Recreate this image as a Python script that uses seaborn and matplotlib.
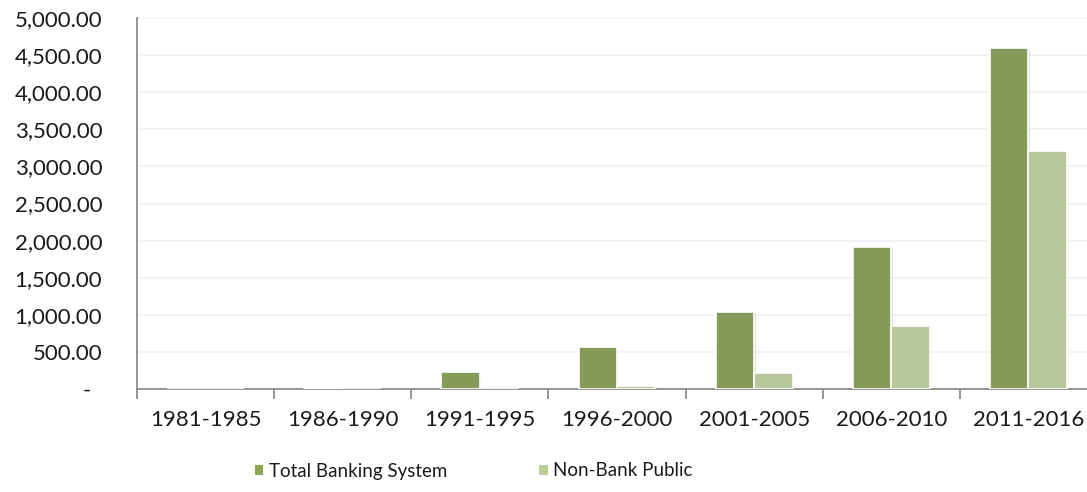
import numpy as np
import pandas as pd
import matplotlib
matplotlib.use("Agg")
import matplotlib.pyplot as plt
import matplotlib.patheffects as pe
from matplotlib.patches import Patch
from matplotlib.ticker import FuncFormatter, FixedLocator
import seaborn as sns

# --- data ---
periods = ['1981-1985', '1986-1990', '1991-1995', '1996-2000',
           '2001-2005', '2006-2010', '2011-2016']
total_banking = [2, 10, 233, 566, 1034, 1914, 4592]
non_bank_public = [1, 5, 22, 40, 216, 853, 3212]
series_names = ['Total Banking System', 'Non-Bank Public']
series_colors = ['#8AA64F', '#BACE95']
y_ticks = list(range(0, 5001, 500))

df = pd.DataFrame({
    'Period': periods * 2,
    'Value': total_banking + non_bank_public,
    'Series': [series_names[0]] * len(periods) + [series_names[1]] * len(periods),
})

# --- style ---
sns.set_style('white')
plt.rcParams['font.family'] = ['Lato', 'DejaVu Sans']

fig = plt.figure(figsize=(10.87, 4.92), dpi=100)
# axes run a little past the right edge, like the cropped original
ax = fig.add_axes([137 / 1087, 103 / 492, 960 / 1087, 371 / 492])

sns.barplot(data=df, x='Period', y='Value', hue='Series', order=periods,
            hue_order=series_names, palette=series_colors, width=0.56,
            edgecolor='white', linewidth=1.2, legend=False, ax=ax, zorder=3)

# soft drop shadow like the spreadsheet bars
for bar in ax.patches:
    bar.set_path_effects([pe.SimplePatchShadow(offset=(1.0, -1.0), shadow_rgbFace='#999999', alpha=0.3),
                          pe.Normal()])

ax.set_xlim(-0.5, len(periods) - 0.5)
ax.set_ylim(0, 5000)
ax.set_yticks(y_ticks)
ax.yaxis.set_major_formatter(FuncFormatter(lambda v, p: '-  ' if v == 0 else f'{v:,.2f}'))
ax.yaxis.grid(True, color='#EEF2F7', linewidth=1.2, zorder=0)
ax.set_axisbelow(True)

# x ticks sit between the categories
ax.xaxis.set_minor_locator(FixedLocator(np.arange(-0.5, len(periods), 1.0)))
ax.tick_params(axis='x', which='major', length=0, pad=15, labelsize=16, labelcolor='#1a1a1a')
ax.tick_params(axis='x', which='minor', bottom=True, length=7, width=1.3,
               color='#8C8C8C', direction='out')
ax.tick_params(axis='y', length=8, width=1.3, color='#8C8C8C', direction='out', pad=17,
               labelsize=16, labelcolor='#1a1a1a')

for side in ['top', 'right']:
    ax.spines[side].set_visible(False)
for side in ['left', 'bottom']:
    ax.spines[side].set_color('#8C8C8C')
    ax.spines[side].set_linewidth(1.3)

ax.set_xlabel('')
ax.set_ylabel('')

handles = [Patch(facecolor=c, edgecolor='none', label=n) for c, n in zip(series_colors, series_names)]
fig.legend(handles=handles, loc='center left', bbox_to_anchor=(238 / 1087, 21 / 492), ncol=2,
           frameon=False, fontsize=13.5, handlelength=0.45, handleheight=0.45,
           handletextpad=0.3, columnspacing=4.9, labelcolor='#1a1a1a')

fig.savefig('out.png', dpi=100)
